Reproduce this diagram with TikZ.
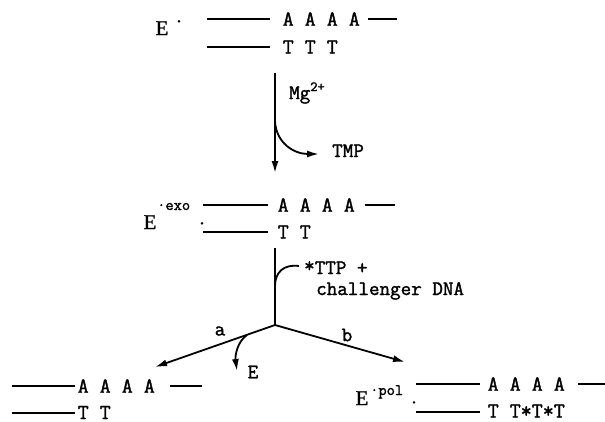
\documentclass[tikz,border=0pt]{standalone}
\usepackage{fontspec}
\setmainfont{Liberation Serif}[FakeBold=0.8]
\setmonofont{Latin Modern Mono}[FakeBold=1.6]
\usetikzlibrary{arrows.meta}

\begin{document}
\begin{tikzpicture}[x=1pt,y=-1pt,
  strand/.style={line width=2.6pt},
  seq/.style={font=\ttfamily\fontsize{21.4}{22}\selectfont, inner sep=0pt, anchor=west},
  enz/.style={font=\rmfamily\fontsize{21}{22}\selectfont, inner sep=0pt, anchor=base},
  supx/.style={font=\ttfamily\fontsize{16}{16}\selectfont, inner sep=0pt, anchor=base west},
  dotmark/.style={font=\ttfamily\fontsize{20}{20}\selectfont, inner sep=0pt, anchor=base},
  lab/.style={font=\ttfamily\fontsize{20.5}{22}\selectfont, inner sep=0pt},
  react/.style={line width=1.8pt},
  reacttip/.style={react, -{Latex[length=12pt,width=7pt]}}
]
\useasboundingbox (0,0) rectangle (605,421);

% ---- E' : primer/template before excision
\node[enz] (e1) at (162,35) {E};
\node[dotmark] (e1d) at (179,22.5) {.};
\coordinate (p1a) at (207,19); \coordinate (p1b) at (270,19);
\coordinate (p1c) at (368,19); \coordinate (p1d) at (397,19);
\coordinate (q1a) at (207,47); \coordinate (q1b) at (270,47);
\draw[strand] (p1a) -- (p1b);
\draw[strand] (p1c) -- (p1d);
\draw[strand] (q1a) -- (q1b);
\node[seq] (a1) at (282.5,19) {A A A A};
\node[seq] (t1) at (282.5,47) {T T T};

% ---- Mg2+ step, release of TMP
\coordinate (v1s) at (275,73);
\coordinate (v1e) at (275,173);
\coordinate (m0) at (275,121);
\coordinate (m1) at (319,154);
\draw[reacttip] (v1s) -- (v1e);
\draw[reacttip] (m0) .. controls (276,143) and (294,154) .. (m1);
\node[lab, anchor=base west] (mg) at (289,99)
  {Mg\raisebox{8pt}{\fontsize{14}{14}\selectfont 2+}};
\node[lab, anchor=base west] (tmp) at (332,157) {TMP};

% ---- E.exo complex
\node[enz] (e2) at (150,229) {E};
\node[supx] (e2s) at (157,210) {·exo};
\node[dotmark] (e2d) at (202,224.5) {.};
\coordinate (p2a) at (203,205); \coordinate (p2b) at (268,205);
\coordinate (p2c) at (365,205); \coordinate (p2d) at (395,205);
\coordinate (q2a) at (203,232); \coordinate (q2b) at (268,232);
\draw[strand] (p2a) -- (p2b);
\draw[strand] (p2c) -- (p2d);
\draw[strand] (q2a) -- (q2b);
\node[seq] (a2) at (277.5,205) {A A A A};
\node[seq] (t2) at (277.5,232) {T T};

% ---- challenge with *TTP and challenger DNA
\coordinate (v2s) at (275,248);
\coordinate (br) at (275,325);
\coordinate (c0) at (299,266);
\coordinate (c1) at (275,286);
\draw[react] (v2s) -- (br);
\draw[react] (c0) .. controls (284,264) and (275,272) .. (c1);
\node[lab, anchor=base west] (ttp) at (304,274)
  {\raisebox{2pt}{*}TTP +};
\node[lab, anchor=base west] (chal) at (316,295) {challenger DNA};

% ---- branch a: dissociation of E
\coordinate (ae) at (155,367);
\coordinate (r0) at (247,335);
\coordinate (r1) at (237,371);
\draw[reacttip] (br) -- (ae);
\draw[reacttip] (r0) .. controls (237,342) and (235,356) .. (r1);
\node[lab] (la) at (220,331) {a};
\node[lab] (le) at (253,372) {E};

% ---- branch b: processive synthesis
\coordinate (be) at (405,362);
\draw[reacttip] (br) -- (be);
\node[lab] (lb) at (347,335) {b};

% ---- product of branch a
\coordinate (p3a) at (12,386); \coordinate (p3b) at (75,386);
\coordinate (p3c) at (170,386); \coordinate (p3d) at (202,386);
\coordinate (q3a) at (12,413); \coordinate (q3b) at (75,413);
\draw[strand] (p3a) -- (p3b);
\draw[strand] (p3c) -- (p3d);
\draw[strand] (q3a) -- (q3b);
\node[seq] (a3) at (77.5,386) {A A A A};
\node[seq] (t3) at (77.5,412.5) {T T};

% ---- E.pol complex, product of branch b
\node[enz] (e4) at (362,405) {E};
\node[supx] (e4s) at (370,395) {·pol};
\node[dotmark] (e4d) at (414,403.5) {.};
\coordinate (p4a) at (416,384); \coordinate (p4b) at (480,384);
\coordinate (p4c) at (578,384); \coordinate (p4d) at (605,384);
\coordinate (q4a) at (416,412); \coordinate (q4b) at (480,412);
\draw[strand] (p4a) -- (p4b);
\draw[strand] (p4c) -- (p4d);
\draw[strand] (q4a) -- (q4b);
\node[seq] (a4) at (487.5,384) {A A A A};
\node[seq] (t4) at (487.5,411) {T T*T*T};
\end{tikzpicture}
\end{document}
